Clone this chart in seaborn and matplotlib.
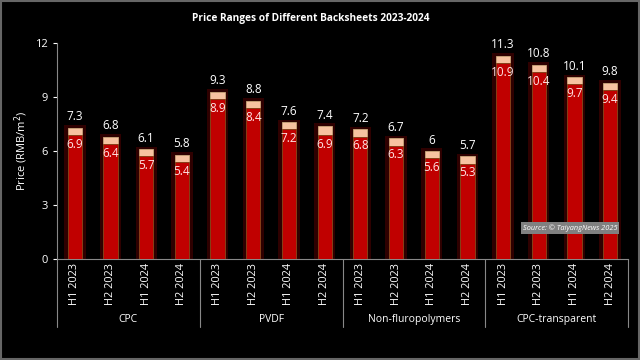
import pandas as pd
import numpy as np
import matplotlib.pyplot as plt
import seaborn as sns
from matplotlib.patches import Rectangle
from matplotlib.transforms import blended_transform_factory

  #DATA
materials = ["CPC", "PVDF", "Non-fluropolymers", "CPC-transparent"]
periods = ["H1 2023", "H2 2023", "H1 2024", "H2 2024"]
high_cpc = [7.3, 6.8, 6.1, 5.8]
low_cpc = [6.9, 6.4, 5.7, 5.4]
high_pvdf = [9.3, 8.8, 7.6, 7.4]
low_pvdf = [8.9, 8.4, 7.2, 6.9]
high_nonfluoro = [7.2, 6.7, 6, 5.7]
low_nonfluoro = [6.8, 6.3, 5.6, 5.3]
high_transparent = [11.3, 10.8, 10.1, 9.8]
low_transparent = [10.9, 10.4, 9.7, 9.4]

highs = high_cpc + high_pvdf + high_nonfluoro + high_transparent
lows = low_cpc + low_pvdf + low_nonfluoro + low_transparent
df = pd.DataFrame({
    "material": np.repeat(materials, len(periods)),
    "period": periods * len(materials),
    "high": highs,
    "low": lows,
})
df["slot"] = df["material"] + " | " + df["period"]
order = list(df["slot"])

sns.set_style("dark")
plt.rcParams["font.family"] = ["Liberation Sans Narrow", "Open Sans", "DejaVu Sans"]

fig = plt.figure(figsize=(6.4, 3.6), dpi=100, facecolor="black")
ax = fig.add_axes([57/640, 1-259/360, 571/640, 216/360])
ax.set_facecolor("black")

  #shadow / glow behind the bars
df["shadow"] = df["high"] + 0.15
sns.barplot(data=df, x="slot", y="shadow", order=order, color="#2e0000",
            width=0.6, saturation=1, ax=ax, zorder=1,
            edgecolor="none", linewidth=0)
sns.barplot(data=df, x="slot", y="high", order=order, color="#F7C2A0",
            width=0.4, saturation=1, ax=ax, zorder=2,
            edgecolor="#C9A77A", linewidth=0.6)
sns.barplot(data=df, x="slot", y="low", order=order, color="#C00000",
            width=0.4, saturation=1, ax=ax, zorder=3,
            edgecolor="#7A3A10", linewidth=0.6)

for i, (h, l) in enumerate(zip(df["high"], df["low"])):
    ax.annotate(f"{h:g}", (i, h), xytext=(0, 3), textcoords="offset points",
                ha="center", va="bottom", color="white", fontsize=8.5)
    ax.annotate(f"{l:g}", (i, l), xytext=(0, -2), textcoords="offset points",
                ha="center", va="top", color="#FFE4E4", fontsize=8.5, zorder=5)

ax.set_xlim(-0.5, len(order) - 0.5)
ax.set_ylim(0, 12)
ax.set_yticks([0, 3, 6, 9, 12])
ax.set_xticks(range(len(order)))
ax.set_xticklabels(df["period"], rotation=90, color="white", fontsize=7.8)
ax.tick_params(axis="y", colors="white", labelsize=8, length=3, left=True)
ax.tick_params(axis="x", length=0, pad=3)
ax.set_xlabel("")
ax.set_ylabel("Price (RMB/m$^2$)", color="white", fontsize=8)
ax.grid(False)
for side in ["top", "right"]:
    ax.spines[side].set_visible(False)
ax.spines["left"].set_color("#888888")
ax.spines["bottom"].set_color("#888888")
ax.spines["left"].set_linewidth(0.8)
ax.spines["bottom"].set_linewidth(0.8)

  #group separators and group labels
tr = blended_transform_factory(ax.transData, ax.transAxes)
for k in range(len(materials) + 1):
    xs = k * len(periods) - 0.5
    ax.plot([xs, xs], [0, -0.315], transform=tr, color="#888888",
            linewidth=0.8, clip_on=False)
for k, m in enumerate(materials):
    ax.text(k * len(periods) + 1.5, -0.278, m, transform=tr, ha="center",
            va="center", color="white", fontsize=7.5)

fig.text(0.485, 1-18/360, "Price Ranges of Different Backsheets 2023-2024",
         ha="center", va="center", color="white", fontsize=7.3, fontweight="bold")
fig.text(523/640, 1-228/360, "Source: © TaiyangNews 2025", ha="left", va="center",
         color="white", fontsize=5.3, style="italic",
         bbox=dict(boxstyle="square,pad=0.25", facecolor="#808080", edgecolor="none"))

fig.patches.append(Rectangle((0.001, 0.002), 0.997, 0.995, transform=fig.transFigure,
                             fill=False, edgecolor="#666666", linewidth=1.5))

fig.savefig("out.png", dpi=100, facecolor="black")
